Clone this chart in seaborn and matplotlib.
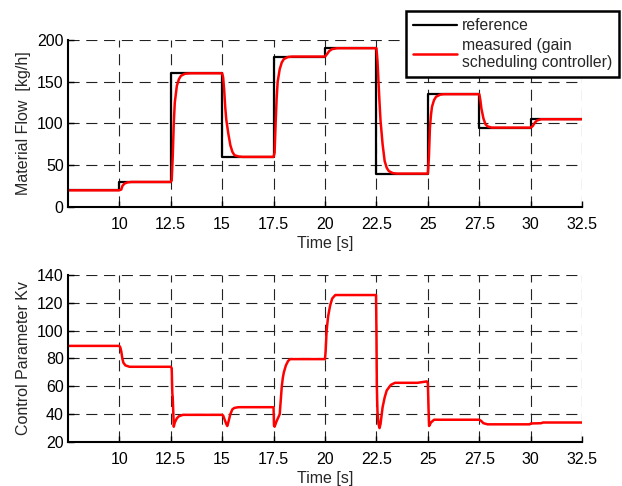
import numpy as np
import pandas as pd
import seaborn as sns
from matplotlib import pyplot as plt

# reference set points (step changes every 2.5 s)
ref_time = [7.5, 10, 12.5, 15, 17.5, 20, 22.5, 25, 27.5, 30, 32.5]
ref_flow = [20, 30, 160, 60, 180, 190, 40, 135, 95, 105, 105]

# measured material flow
meas_time = [7.5, 10.0, 10.1, 10.15, 10.25, 10.4, 10.6,
             12.5, 12.55, 12.6, 12.65, 12.7, 12.8, 12.9, 13.0, 13.2, 13.5,
             15.0, 15.05, 15.1, 15.15, 15.2, 15.3, 15.4, 15.5, 15.6, 15.8, 16.0,
             17.5, 17.55, 17.6, 17.65, 17.7, 17.8, 17.9, 18.0, 18.2, 18.4,
             20.0, 20.1, 20.2, 20.35, 20.6,
             22.5, 22.55, 22.6, 22.65, 22.7, 22.8, 22.9, 23.0, 23.1, 23.3, 23.5,
             25.0, 25.05, 25.1, 25.15, 25.2, 25.3, 25.4, 25.6, 25.8,
             27.5, 27.55, 27.6, 27.7, 27.8, 27.9, 28.1,
             30.0, 30.1, 30.2, 30.3, 30.5, 32.5]
meas_flow = [20, 20, 21, 25, 28, 29.5, 30,
             30, 32, 60, 100, 125, 145, 153, 157, 159.5, 160,
             160, 155, 140, 120, 105, 88, 74, 66, 62, 60.5, 60,
             60, 65, 100, 130, 150, 165, 173, 177, 179.5, 180,
             180, 183, 186.5, 189, 190,
             190, 175, 150, 125, 103, 75, 55, 47, 43, 40.5, 40,
             40, 60, 95, 110, 120, 128, 132, 134.5, 135,
             135, 128, 118, 106, 99, 96.5, 95,
             95, 97, 101, 103.5, 105, 105]

# gain scheduled control parameter Kv
kv_time = [7.5, 10.0, 10.05, 10.1, 10.15, 10.2, 10.3, 10.5,
           12.5, 12.55, 12.58, 12.6, 12.63, 12.65, 12.7, 12.8, 12.9, 13.1,
           15.0, 15.05, 15.1, 15.2, 15.25, 15.3, 15.4, 15.5, 15.6, 15.8,
           17.5, 17.52, 17.55, 17.65, 17.8, 17.85, 17.9, 17.95, 18.0, 18.1, 18.2, 18.3,
           20.0, 20.03, 20.08, 20.15, 20.25, 20.35, 20.5,
           22.48, 22.5, 22.52, 22.55, 22.6, 22.65, 22.7, 22.8, 22.9, 23.0, 23.2, 23.4,
           24.5, 24.95, 25.0, 25.03, 25.06, 25.15, 25.3,
           27.5, 27.6, 27.7, 27.9, 29.95, 30.0, 30.5, 30.6, 32.5]
kv_value = [89, 89, 88, 85, 80, 77, 75, 74,
            74, 73, 55, 52, 40, 31, 34, 37, 38.5, 39.5,
            39.5, 39, 37, 33, 31.5, 34, 40, 43.5, 44.5, 45,
            45, 32, 31, 35, 40, 50, 60, 66, 70, 75, 78, 79.5,
            79.5, 85, 100, 110, 118, 123, 125.5,
            125.5, 100, 60, 42, 33, 30, 33, 45, 52, 57, 61, 62.5,
            62.5, 63.5, 62, 45, 31.5, 34, 36,
            36, 35, 33.5, 32.7, 32.7, 33.3, 33.5, 34, 34]

x_ticks = [10, 12.5, 15, 17.5, 20, 22.5, 25, 27.5, 30, 32.5]
x_tick_labels = ['10', '12.5', '15', '17.5', '20', '22.5', '25', '27.5', '30', '32.5']

ref_df = pd.DataFrame({'t': ref_time, 'v': ref_flow})
meas_df = pd.DataFrame({'t': meas_time, 'v': meas_flow})
kv_df = pd.DataFrame({'t': kv_time, 'v': kv_value})

sns.set_style('white')
plt.rcParams['font.family'] = ['Liberation Sans', 'DejaVu Sans']
plt.rcParams['font.size'] = 11.5

fig = plt.figure(figsize=(6.22, 4.86), dpi=100)
ax1 = fig.add_axes([0.109, 0.574, 0.827, 0.344])
ax2 = fig.add_axes([0.109, 0.0905, 0.827, 0.344])

sns.lineplot(data=ref_df, x='t', y='v', ax=ax1, color='black', linewidth=1.6,
             drawstyle='steps-post', estimator=None, label='reference')
sns.lineplot(data=meas_df, x='t', y='v', ax=ax1, color='red', linewidth=1.8,
             estimator=None, label='measured (gain\nscheduling controller)')
sns.lineplot(data=kv_df, x='t', y='v', ax=ax2, color='red', linewidth=1.8,
             estimator=None)

for ax in (ax1, ax2):
    ax.set_xlim(7.5, 32.5)
    ax.set_xticks(x_ticks)
    ax.set_xticklabels(x_tick_labels)
    ax.set_xlabel('Time [s]', labelpad=3)
    ax.grid(True, color='#222222', linestyle=(0, (10, 6)), linewidth=0.8)
    ax.set_axisbelow(True)
    for side in ('top', 'right'):
        ax.spines[side].set_visible(False)
    for side in ('left', 'bottom'):
        ax.spines[side].set_linewidth(1.5)
        ax.spines[side].set_color('black')
    ax.tick_params(direction='in', length=4, width=1, colors='black',
                   labelsize=11.5, bottom=True, left=True)
    ax.tick_params(axis='x', pad=7)
    ax.tick_params(axis='y', pad=3)

ax1.set_ylim(0, 200)
ax1.set_yticks([0, 50, 100, 150, 200])
ax1.set_ylabel('Material Flow  [kg/h]', labelpad=4)
ax2.set_ylim(20, 140)
ax2.set_yticks([20, 40, 60, 80, 100, 120, 140])
ax2.set_ylabel('Control Parameter Kv', labelpad=4)

handles, labels = ax1.get_legend_handles_labels()
ax1.get_legend().remove()
leg = fig.legend(handles, labels, loc='upper right',
                 bbox_to_anchor=(619 / 622, 1 - 11 / 486),
                 fancybox=False, framealpha=1, edgecolor='black',
                 handlelength=2.8, handletextpad=0.3, borderpad=0.45,
                 labelspacing=0.3, fontsize=11.3, borderaxespad=0)
leg.get_frame().set_linewidth(1.8)

fig.savefig('out.png', dpi=100)
